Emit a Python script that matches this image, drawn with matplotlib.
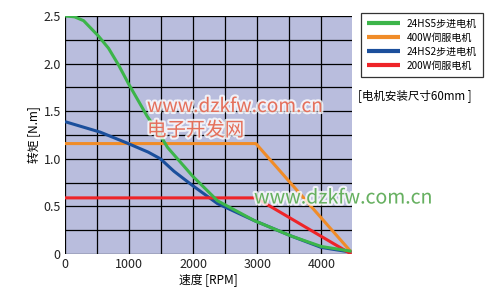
import matplotlib
matplotlib.use("Agg")
import matplotlib.pyplot as plt
import matplotlib.patheffects as pe

plt.rcParams['font.family'] = ['Noto Sans CJK SC', 'DejaVu Sans']

# data
hs5_x = [0, 150, 290, 520, 680, 840, 990, 1280, 1520, 1600, 1990, 2380, 2960, 3530, 4000, 4470]
hs5_y = [2.5, 2.49, 2.45, 2.29, 2.16, 1.98, 1.79, 1.45, 1.21, 1.12, 0.82, 0.56, 0.35, 0.19, 0.08, 0.03]
hs2_x = [0, 550, 970, 1300, 1490, 1700, 1990, 2380, 2960, 3530, 4000, 4470]
hs2_y = [1.39, 1.28, 1.165, 1.07, 1.0, 0.87, 0.72, 0.53, 0.35, 0.19, 0.07, 0.02]
s400_x = [0, 2980, 4470]
s400_y = [1.16, 1.16, 0.02]
s200_x = [0, 2980, 4470]
s200_y = [0.59, 0.59, 0.0]
labels = ['24HS5步进电机', '400W伺服电机', '24HS2步进电机', '200W伺服电机']
colors = ['#3cb54a', '#f08c28', '#1b4f9c', '#ee2428']
xticks = [0, 1000, 2000, 3000, 4000]
xticklabels = ['0', '1000', '2000', '3000', '4000']
yticks = [0, 0.5, 1.0, 1.5, 2.0, 2.5]
yticklabels = ['0', '0.5', '1.0', '1.5', '2.0', '2.5']

fig = plt.figure(figsize=(5, 3), dpi=100)
ax = fig.add_axes([0.13, 0.153, 0.574, 0.794])
ax.set_facecolor('#b9bddd')

series = [(hs5_x, hs5_y), (s400_x, s400_y), (hs2_x, hs2_y), (s200_x, s200_y)]
handles = []
for (xs, ys), c, lab in zip(series, colors, labels):
    h, = ax.plot(xs, ys, color=c, lw=2.2, label=lab, solid_capstyle='butt', zorder=3)
    handles.append(h)
ax.lines[0].set_zorder(4)

ax.set_xlim(0, 4480)
ax.set_ylim(0, 2.5)
ax.set_xticks([i * 500 for i in range(9)], minor=True)
ax.set_yticks([i * 0.25 for i in range(10)], minor=True)
ax.set_xticks(xticks)
ax.set_xticklabels(xticklabels)
ax.set_yticks(yticks)
ax.set_yticklabels(yticklabels)
ax.grid(True, which='both', color='black', lw=0.9, zorder=1)
ax.set_axisbelow(True)
ax.tick_params(which='both', length=0, labelsize=9, colors='#222222', pad=3)
for s in ax.spines.values():
    s.set_visible(False)

ax.set_ylabel('转矩 [N.m]', fontsize=8.5, labelpad=2)
ax.set_xlabel('速度 [RPM]', fontsize=8.5, labelpad=2)

leg = fig.legend(handles=handles, labels=labels, loc='upper left',
                 bbox_to_anchor=(0.722, 0.957), borderaxespad=0, fontsize=7.2,
                 frameon=True, fancybox=False, edgecolor='black', handlelength=3.3,
                 labelspacing=0.4, borderpad=0.6, handletextpad=0.7)
leg.get_frame().set_linewidth(0.9)
for l in leg.get_lines():
    l.set_linewidth(3)

fig.text(0.716, 0.683, '[电机安装尺寸60mm ]', fontsize=8.3, ha='left', va='center')

# watermarks
wm = [pe.withStroke(linewidth=3, foreground='white', alpha=0.8)]
fig.text(0.294, 0.645, 'www.dzkfw.com.cn', fontsize=13.8, color='#e4705c',
         ha='left', va='center', path_effects=wm, zorder=10)
fig.text(0.294, 0.565, '电子开发网', fontsize=14, color='#e4705c',
         ha='left', va='center', path_effects=wm, zorder=10)
fig.text(0.508, 0.34, 'www.dzkfw.com.cn', fontsize=14, color='#66b060',
         ha='left', va='center', path_effects=wm, zorder=10)

fig.savefig('out.png', dpi=100)
